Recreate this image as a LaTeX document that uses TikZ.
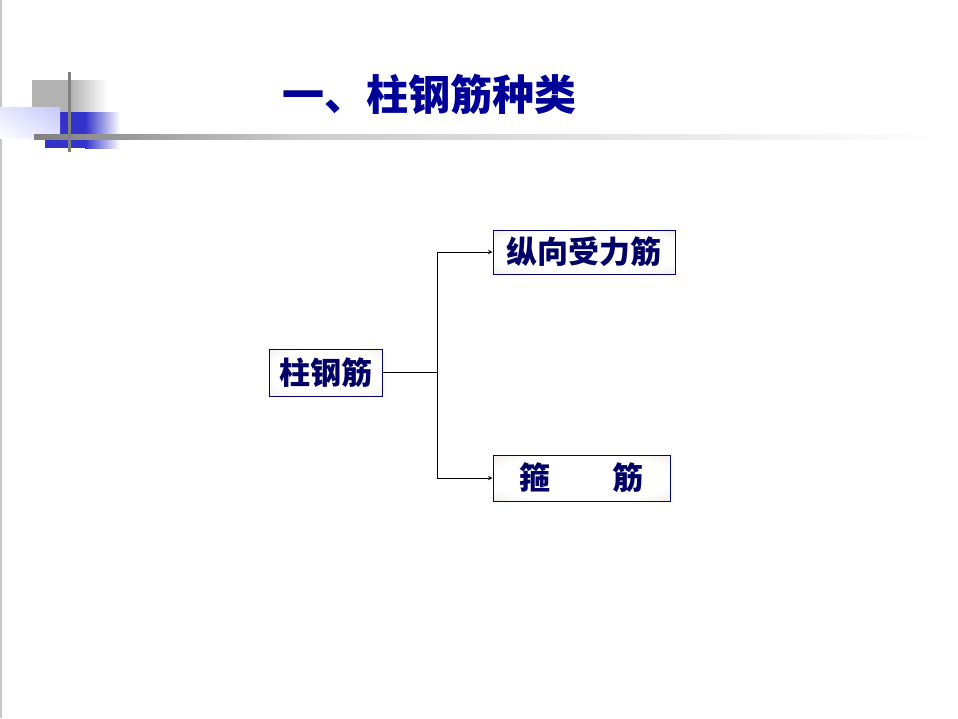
\documentclass[tikz,border=0pt]{standalone}
\usepackage{fontspec}
\newfontfamily\cjk{Noto Sans CJK SC}
\usepackage{tikz}
\usetikzlibrary{positioning}
\usetikzlibrary{shadings}
\definecolor{titleblue}{HTML}{000099}
\definecolor{boxnavy}{HTML}{000066}
\definecolor{boxline}{HTML}{000080}
\definecolor{boxtan}{HTML}{D4CAB6}
\definecolor{decogray}{HTML}{B2B2B2}
\definecolor{decoblue}{HTML}{3333CC}
\definecolor{lineGray}{HTML}{808080}
\pgfdeclareradialshading{boxglow}{\pgfpoint{0bp}{0bp}}{color(0bp)=(white); color(26bp)=(white); color(42bp)=(boxtan!55); color(50bp)=(boxtan)}
\tikzset{x=1pt, y=-1pt,
 kindbox/.style={draw=boxline, line width=1pt, shading=boxglow,
   inner sep=0pt, text=boxnavy,
   font=\cjk\bfseries\fontsize{31}{31}\selectfont},
 link/.style={line width=1pt, black},
 }

\begin{document}
\begin{tikzpicture}
        \useasboundingbox (0,0) rectangle (958,718);
        \fill [white] (0,0) rectangle (958,718);
        \fill [gray!45] (0,0) rectangle (1.5,718);
        % corner decoration
        \fill [decogray] (32,80) rectangle (71,112);
        \shade [left color=decogray, right color=white] (71,80) rectangle (107,112);
        \fill [decoblue] (45,112) rectangle (85,148);
        \shade [left color=decoblue, right color=white] (85,112) rectangle (120,148);
        \shade [upper left=blue!10, upper right=blue!22, lower left=white, lower right=blue!12] (0,107) rectangle (60,138);
        \shade [left color=lineGray, right color=gray!40] (34,134) rectangle (300,139);
        \shade [left color=gray!40, right color=white] (300,134) rectangle (947,139);
        \fill [lineGray] (68,72) rectangle (71,152);
        % title
        \node (title) at (429,94) [text=titleblue, font=\cjk\bfseries\fontsize{42}{42}\selectfont] {一、柱钢筋种类};
        % boxes
        \node [kindbox, minimum width=113, minimum height=47] (zhu) at (325.5,372.5) {柱钢筋};
        \node [kindbox, minimum width=182, minimum height=44] (zong) at (584,252) {纵向受力筋};
        \node [kindbox, minimum width=177, minimum height=46] (gu) at (581.5,478) {箍　　筋};
        \draw [link] (zhu.east) -- (437,372.5) coordinate (fork);
        \draw [link, ->, >=stealth] (fork) |- (zong.west);
        \draw [link, ->, >=stealth] (fork) |- (gu.west);
    \end{tikzpicture}
\end{document}
